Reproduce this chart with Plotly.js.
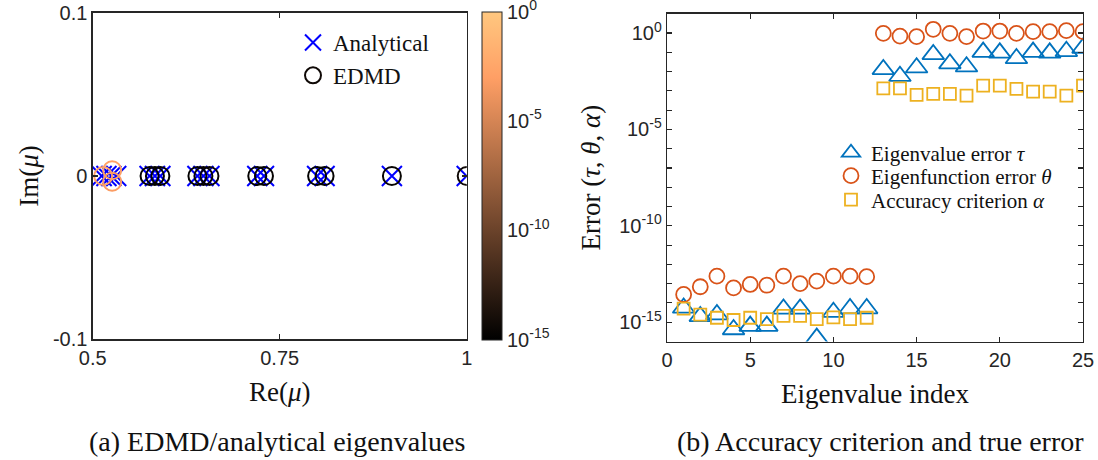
<!DOCTYPE html>
<html>
<head>
<meta charset="utf-8">
<script src="https://cdn.plot.ly/plotly-3.0.1.min.js"></script>
<style>html,body{margin:0;padding:0;background:#fff;}#plot{width:1098px;height:460px;}</style>
</head>
<body>
<div id="plot"></div>
<script>
// ---- Panel (a): eigenvalues ----
var analyticalRe = [1, 0.9, 0.81, 0.8, 0.729, 0.72, 0.6561, 0.648, 0.64, 0.59049, 0.5832, 0.576, 0.531441, 0.52488, 0.5184, 0.512];
var analyticalIm = [0, 0, 0, 0, 0, 0, 0, 0, 0, 0, 0, 0, 0, 0, 0, 0];
var edmdRe = [1, 0.9, 0.81, 0.8, 0.729, 0.72, 0.6561, 0.648, 0.64, 0.59049, 0.5832, 0.576, 0.514, 0.526, 0.526];
var edmdIm = [0, 0, 0, 0, 0, 0, 0, 0, 0, 0, 0, 0, 0, 0.0035, -0.0035];
var edmdAlpha = [5.1e-15, 2.5e-15, 1.7e-15, 1.3e-15, 1.7e-15, 1.45e-15, 2.15e-15, 2.15e-15, 1.45e-15, 1.8e-15, 1.45e-15, 1.7e-15, 1.35e-3, 1.35e-3, 6.2e-4];
var leftXTicks = [0.5, 0.75, 1];
var leftXTickText = ['0.5', '0.75', '1'];
var leftYTicks = [-0.1, 0, 0.1];
var leftYTickText = ['-0.1', '0', '0.1'];
var cbTicks = [0, -5, -10, -15];
var cbTickText = ['10<sup>0</sup>', '10<sup>-5</sup>', '10<sup>-10</sup>', '10<sup>-15</sup>'];

// ---- Panel (b): errors ----
var index = [1,2,3,4,5,6,7,8,9,10,11,12,13,14,15,16,17,18,19,20,21,22,23,24,25];
var tauErr = [5.5e-15, 2.0e-15, 2.5e-15, 4.2e-16, 6.3e-16, 6.3e-16, 4.9e-15, 4.9e-15, 1.5e-16, 3.3e-15, 5.1e-15, 5.1e-15,
              0.0129, 0.00575, 0.0158, 0.0776, 0.0257, 0.0178, 0.102, 0.0933, 0.0479, 0.102, 0.0933, 0.112, 0.166];
var thetaErr = [2.75e-14, 6.9e-14, 2.45e-13, 6.0e-14, 9.1e-14, 8.3e-14, 2.45e-13, 1.0e-13, 1.35e-13, 2.45e-13, 2.45e-13, 2.3e-13,
                0.955, 0.69, 0.646, 1.55, 0.955, 0.646, 1.26, 1.26, 0.955, 1.17, 1.17, 1.32, 1.17];
var alphaCrit = [5.1e-15, 2.5e-15, 1.7e-15, 1.3e-15, 1.7e-15, 1.45e-15, 2.15e-15, 2.15e-15, 1.45e-15, 1.8e-15, 1.45e-15, 1.7e-15,
                 1.35e-3, 1.35e-3, 6.2e-4, 6.9e-4, 6.9e-4, 5.6e-4, 1.86e-3, 1.86e-3, 1.26e-3, 9.1e-4, 9.1e-4, 5.6e-4, 1.86e-3];
var rightXTicks = [0, 5, 10, 15, 20, 25];
var rightYTicks = [1e-15, 1e-10, 1e-5, 1e0];
var rightYTickText = ['10<sup>-15</sup>', '10<sup>-10</sup>', '10<sup>-5</sup>', '10<sup>0</sup>'];
var rightYMinor = [1e-16,1e-14,1e-13,1e-12,1e-11,1e-9,1e-8,1e-7,1e-6,1e-4,1e-3,1e-2,1e-1,1e1];

var W = 1098, H = 460;
function fx(p){ return p / W; }
function fy(p){ return (H - p) / H; }

var serif = 'Liberation Serif, Times New Roman, serif';
var sans = 'Liberation Sans, Arial, Helvetica, sans-serif';
var axCol = '#262626';

var copper = [[0, 'rgb(0,0,0)'], [0.8, 'rgb(255,159,101)'], [1, 'rgb(255,199,127)']];

var traces = [
  {
    x: analyticalRe, y: analyticalIm, type: 'scatter', mode: 'markers', name: 'Analytical',
    xaxis: 'x', yaxis: 'y', legend: 'legend',
    marker: {symbol: 'x-thin-open', size: 20, color: 'rgb(0,0,255)', line: {width: 2, color: 'rgb(0,0,255)'}}
  },
  {
    x: edmdRe, y: edmdIm, type: 'scatter', mode: 'markers', name: 'EDMD',
    xaxis: 'x', yaxis: 'y', legend: 'legend',
    marker: {
      symbol: 'circle-open', size: 18, line: {width: 2},
      color: edmdAlpha.map(function(v){ return Math.log10(v); }),
      colorscale: copper, cmin: -15, cmax: 0, showscale: true,
      colorbar: {
        x: fx(482), xanchor: 'left', y: fy(339.5), yanchor: 'bottom',
        len: (339.5 - 11.7) / H, lenmode: 'fraction', thickness: 20, thicknessmode: 'pixels',
        outlinewidth: 1, outlinecolor: axCol, xpad: 0, ypad: 0,
        tickmode: 'array', tickvals: cbTicks, ticktext: cbTickText, ticks: '',
        ticklabeloverflow: 'allow',
        tickfont: {family: sans, size: 20, color: axCol}
      }
    }
  },
  {
    x: index, y: tauErr, type: 'scatter', mode: 'markers', name: 'Eigenvalue error <i>τ</i>',
    xaxis: 'x2', yaxis: 'y2', legend: 'legend2',
    marker: {symbol: 'triangle-up-open', size: 19, color: '#0072BD', line: {width: 1.8, color: '#0072BD'}}
  },
  {
    x: index, y: thetaErr, type: 'scatter', mode: 'markers', name: 'Eigenfunction error <i>θ</i>',
    xaxis: 'x2', yaxis: 'y2', legend: 'legend3',
    marker: {symbol: 'circle-open', size: 15, color: '#D95319', line: {width: 1.8, color: '#D95319'}}
  },
  {
    x: index, y: alphaCrit, type: 'scatter', mode: 'markers', name: 'Accuracy criterion <i>α</i>',
    xaxis: 'x2', yaxis: 'y2', legend: 'legend4',
    marker: {symbol: 'square-open', size: 12, color: '#EDB120', line: {width: 1.8, color: '#EDB120'}}
  }
];

var axBase = {
  showline: true, linecolor: axCol, linewidth: 1.3, mirror: 'ticks',
  ticks: 'inside', ticklen: 5, tickwidth: 1.1, tickcolor: axCol,
  showgrid: false, zeroline: false, fixedrange: true,
  tickfont: {family: sans, size: 20, color: axCol}
};
function ax(o){ var r = JSON.parse(JSON.stringify(axBase)); for (var k in o) r[k] = o[k]; return r; }

var titleFont = {family: serif, size: 27, color: '#111'};
function leg(x, y, size){
  return {x: fx(x), xanchor: 'left', y: fy(y), yanchor: 'middle', bgcolor: 'rgba(0,0,0,0)',
    borderwidth: 0, font: {family: serif, size: size, color: '#111'}};
}

var layout = {
  width: W, height: H,
  margin: {l: 0, r: 0, t: 0, b: 0},
  paper_bgcolor: '#fff', plot_bgcolor: '#fff',
  showlegend: true,
  xaxis: ax({domain: [fx(92.7), fx(466.7)], range: [0.5, 1], anchor: 'y',
    tickvals: leftXTicks, ticktext: leftXTickText,
    title: {text: 'Re(<i>μ</i>)', font: titleFont, standoff: 14}}),
  yaxis: ax({domain: [fy(339.3), fy(12.7)], range: [-0.1, 0.1], anchor: 'x',
    tickvals: leftYTicks, ticktext: leftYTickText,
    title: {text: 'Im(<i>μ</i>)', font: titleFont, standoff: 6}}),
  xaxis2: ax({domain: [fx(667), fx(1083)], range: [0, 25], anchor: 'y2',
    tickvals: rightXTicks,
    title: {text: 'Eigenvalue index', font: titleFont, standoff: 14}}),
  yaxis2: ax({domain: [fy(341.5), fy(13.7)], type: 'log', range: [-16, 1], anchor: 'x2',
    tickvals: rightYTicks, ticktext: rightYTickText,
    minor: {tickvals: rightYMinor, ticks: 'inside', ticklen: 5, tickwidth: 1.1, tickcolor: axCol, showgrid: false},
    title: {text: 'Error (<i>τ</i>, <i>θ</i>, <i>α</i>)', font: titleFont, standoff: 10}}),
  legend: {x: fx(293), xanchor: 'left', y: fy(21), yanchor: 'top', bgcolor: 'rgba(0,0,0,0)',
    borderwidth: 0, font: {family: serif, size: 23, color: '#111'}},
  legend2: leg(831, 153, 21),
  legend3: leg(831, 176, 21),
  legend4: leg(831, 200, 21),
  annotations: [
    {text: '(a) EDMD/analytical eigenvalues', xref: 'paper', yref: 'paper', x: fx(277), y: fy(441),
     xanchor: 'center', yanchor: 'middle', showarrow: false, font: {family: serif, size: 28, color: '#111'}},
    {text: '(b) Accuracy criterion and true error', xref: 'paper', yref: 'paper', x: fx(880), y: fy(441),
     xanchor: 'center', yanchor: 'middle', showarrow: false, font: {family: serif, size: 28, color: '#111'}}
  ]
};

Plotly.newPlot('plot', traces, layout, {displayModeBar: false, staticPlot: true});
</script>
</body>
</html>
